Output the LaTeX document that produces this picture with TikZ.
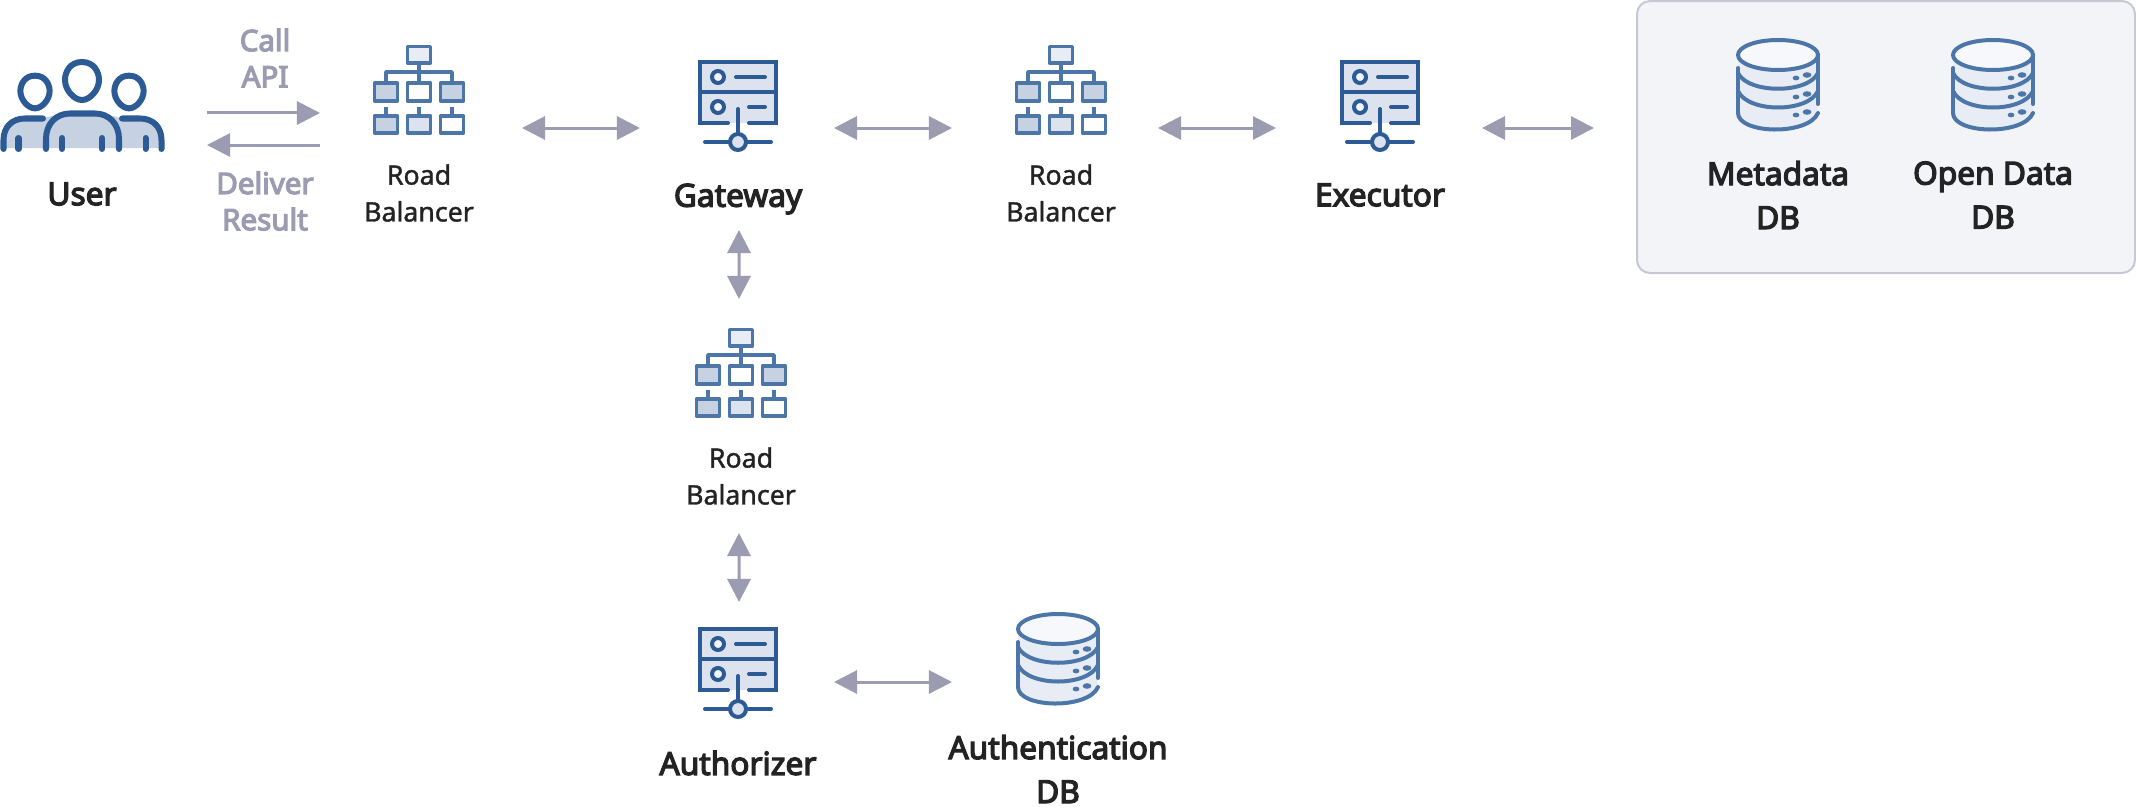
\documentclass[tikz,border=0pt]{standalone}
\usepackage{fontspec}
\setmainfont{Noto Sans}
\newfontfamily\heavyfont[FakeBold=4]{Noto Sans}
\newfontfamily\mediumfont[FakeBold=1.4]{Noto Sans}
\usetikzlibrary{arrows.meta}
\definecolor{navy}{HTML}{2B5A94}
\definecolor{steel}{HTML}{4C76A8}
\definecolor{link}{HTML}{9B9BB1}
\definecolor{ink}{HTML}{232323}
\definecolor{boxfill}{HTML}{DDE3EE}
\definecolor{midfill}{HTML}{C6D1E2}
\definecolor{palefill}{HTML}{E8ECF4}
\definecolor{panelfill}{HTML}{F3F4F7}

\tikzset{
  oneway/.style={draw=link, fill=link, line width=0.03cm,
                -{Triangle[length=0.23cm,width=0.23cm]}},
  twoway/.style={draw=link, fill=link, line width=0.03cm,
               {Triangle[length=0.23cm,width=0.23cm]}-{Triangle[length=0.23cm,width=0.23cm]}},
  hub/.style 2 args={inner sep=0pt, outer sep=0pt,
                     minimum width=#1*0.01cm, minimum height=#2*0.01cm},
  lblbold/.style={font=\fontsize{9pt}{12.5pt}\selectfont\heavyfont, text=ink, align=center, inner sep=0pt},
  lblthin/.style={font=\fontsize{7.6pt}{10.5pt}\selectfont\mediumfont, text=ink, align=center, inner sep=0pt},
  lblnote/.style={font=\fontsize{8.4pt}{10.3pt}\selectfont\heavyfont, text=link, align=center, inner sep=0pt},
  % egg shaped head, origin at its middle
  head/.pic={
    \draw (0,-19) .. controls (12,-19) and (17,-9) .. (17,-1)
      .. controls (17,9) and (8,19) .. (0,19) .. controls (-8,19) and (-17,9) .. (-17,-1)
      .. controls (-17,-9) and (-12,-19) .. (0,-19) -- cycle;
  },
  % tree of boxes, origin at top middle
  balancer/.pic={
    \begin{scope}[draw=steel, line width=0.036cm, line join=round]
      \draw[fill=palefill] (-11.5,1.5) rectangle (11.5,18);
      \draw (0,18) -- (0,27) (-33,38) -- (-33,27) -- (33,27) -- (33,38) (0,27) -- (0,38);
      \foreach \x/\col in {-33/midfill, 0/white, 33/midfill} {
        \draw[fill=\col] (\x-11.5,38) rectangle (\x+11.5,56);
      }
      \foreach \x/\col in {-33/midfill, 0/boxfill, 33/white} {
        \draw[fill=\col] (\x-11.5,71) rectangle (\x+11.5,88);
        \draw (\x,62) -- (\x,71);
      }
    \end{scope}
  },
  % rack with a network line, origin at top middle
  server/.pic={
    \begin{scope}[draw=navy, line width=0.04cm, line cap=round]
      \fill[boxfill] (-38,1) rectangle (38,62);
      \draw (-10,62) -- (-38,62) -- (-38,1) -- (38,1) -- (38,62) -- (11,62);
      \draw (-38,31) -- (38,31);
      \draw[fill=white!60!boxfill] (-20,16) circle (6);
      \draw[fill=white!60!boxfill] (-20,46) circle (6);
      \draw (-2,16) -- (27,16) (11,46) -- (27,46);
      \draw (0,48) -- (0,73) (-33,81) -- (33,81);
      \draw[fill=boxfill] (0,81) circle (8);
    \end{scope}
  },
  % three layer drum, origin at top middle
  drum/.pic={
    \begin{scope}[draw=steel, line width=0.04cm, line cap=round]
      \fill[palefill] (-40,15) -- (-40,73) .. controls (-40,94) and (40,94) .. (40,73) -- (40,15) -- cycle;
      \draw[fill=white!65!palefill] (0,15) ellipse (40 and 15);
      \draw (-40,28) -- (-40,73) (40,15) -- (40,64);
      \draw (-40,73) .. controls (-40,94) and (30,96) .. (40,73);
      \draw (-40,33) .. controls (-30,54) and (30,54) .. (40,33);
      \draw (-40,51) .. controls (-30,73) and (30,73) .. (40,51);
      \foreach \y in {0,19,37} {
        \fill[steel] (18,38+\y) ellipse (3.4 and 2.4);
        \fill[steel] (29,35+\y) ellipse (4.4 and 2.8);
      }
    \end{scope}
  }
}

\begin{document}
\begin{tikzpicture}[x=0.01cm, y=-0.01cm, >=Stealth]
  \useasboundingbox (0,0) rectangle (2136,812);

  % Storage panel
  \node[hub={498}{272}, rectangle, rounded corners=0.13cm, draw=link!55, line width=0.02cm,
        fill=panelfill] (store) at (1886,137) {};
  \pic at (1778,40) {drum};
  \pic at (1993,40) {drum};
  \node[lblbold] (metadb) at (1778,195) {Metadata\\DB};
  \node[lblbold] (opendb) at (1993,195) {Open Data\\DB};
  \coordinate (storein) at (1594,128);

  % User
  \fill[midfill] (3,148) -- (3,140) .. controls (3,126) and (12,118) .. (25,118)
    -- (46,118) .. controls (50,113) and (115,113) .. (119,118) -- (140,118)
    .. controls (153,118) and (162,126) .. (162,140) -- (162,148) -- cycle;
  \begin{scope}[draw=navy, line width=0.06cm, line cap=round, fill=palefill]
    \draw (3.5,149) -- (3.5,140) .. controls (3.5,127) and (12,118.5) .. (25,118.5) -- (43,118.5);
    \draw (122,118.5) -- (140,118.5) .. controls (153,118.5) and (161.5,127) .. (161.5,140) -- (161.5,149);
    \draw (46,149) -- (46,139) .. controls (46,124) and (56,113.5) .. (70,113.5) -- (95,113.5)
      .. controls (109,113.5) and (119,124) .. (119,139) -- (119,149);
    \foreach \x in {18.5,62,102,145.5} {
      \draw (\x,138) -- (\x,149);
    }
    \pic[fill=palefill] at (82,81) {head};
    \pic[fill=palefill, scale=0.86] at (35,92) {head};
    \pic[fill=palefill, scale=0.86] at (129,92) {head};
  \end{scope}
  \node[hub={250}{80}] (user) at (82,128) {};
  \node[lblbold] (userlbl) at (82,194) {User};

  % Top row
  \pic at (419,45) {balancer};
  \node[hub={202}{80}] (lbuser) at (421,128) {};
  \node[lblthin] (lbuserlbl) at (419,193) {Road\\Balancer};
  \pic at (738,61) {server};
  \node[hub={194}{204}] (gateway) at (737,128) {};
  \node[lblbold] (gatewaylbl) at (738,199) {Gateway};
  \pic at (1061,45) {balancer};
  \node[hub={206}{80}] (lbexec) at (1055,128) {};
  \node[lblthin] (lbexeclbl) at (1061,193) {Road\\Balancer};
  \pic at (1380,61) {server};
  \node[hub={206}{80}] (executor) at (1379,128) {};
  \node[lblbold] (executorlbl) at (1380,195) {Executor};

  % Down to the authorizer
  \pic at (741,328) {balancer};
  \node[hub={80}{234}] (lbauth) at (739,416) {};
  \node[lblthin] (lbauthlbl) at (741,476) {Road\\Balancer};
  \pic at (738,628) {server};
  \node[hub={194}{160}] (authorizer) at (737,682) {};
  \node[lblbold] (authorizerlbl) at (738,763) {Authorizer};
  \pic at (1058,614) {drum};
  \node[hub={212}{80}] (authdb) at (1058,682) {};
  \node[lblbold] (authdblbl) at (1058,769) {Authentication\\DB};

  % Call and result
  \node[lblnote] (calllbl) at (265,58) {Call\\API};
  \node[lblnote] (deliverlbl) at (265,201) {Deliver\\Result};
  \draw[oneway] ([yshift=0.15cm]user.east) -- ([yshift=0.15cm]lbuser.west);
  \draw[oneway] ([yshift=-0.17cm]lbuser.west) -- ([yshift=-0.17cm]user.east);

  % Links
  \draw[twoway] (lbuser) -- (gateway);
  \draw[twoway] (gateway) -- (lbexec);
  \draw[twoway] (lbexec) -- (executor);
  \draw[twoway] (executor.east) -- (storein);
  \draw[twoway] ([xshift=0.02cm]gateway.south) -- (lbauth.north);
  \draw[twoway] (lbauth.south) -- ([xshift=0.02cm]authorizer.north);
  \draw[twoway] (authorizer) -- (authdb);
\end{tikzpicture}
\end{document}
